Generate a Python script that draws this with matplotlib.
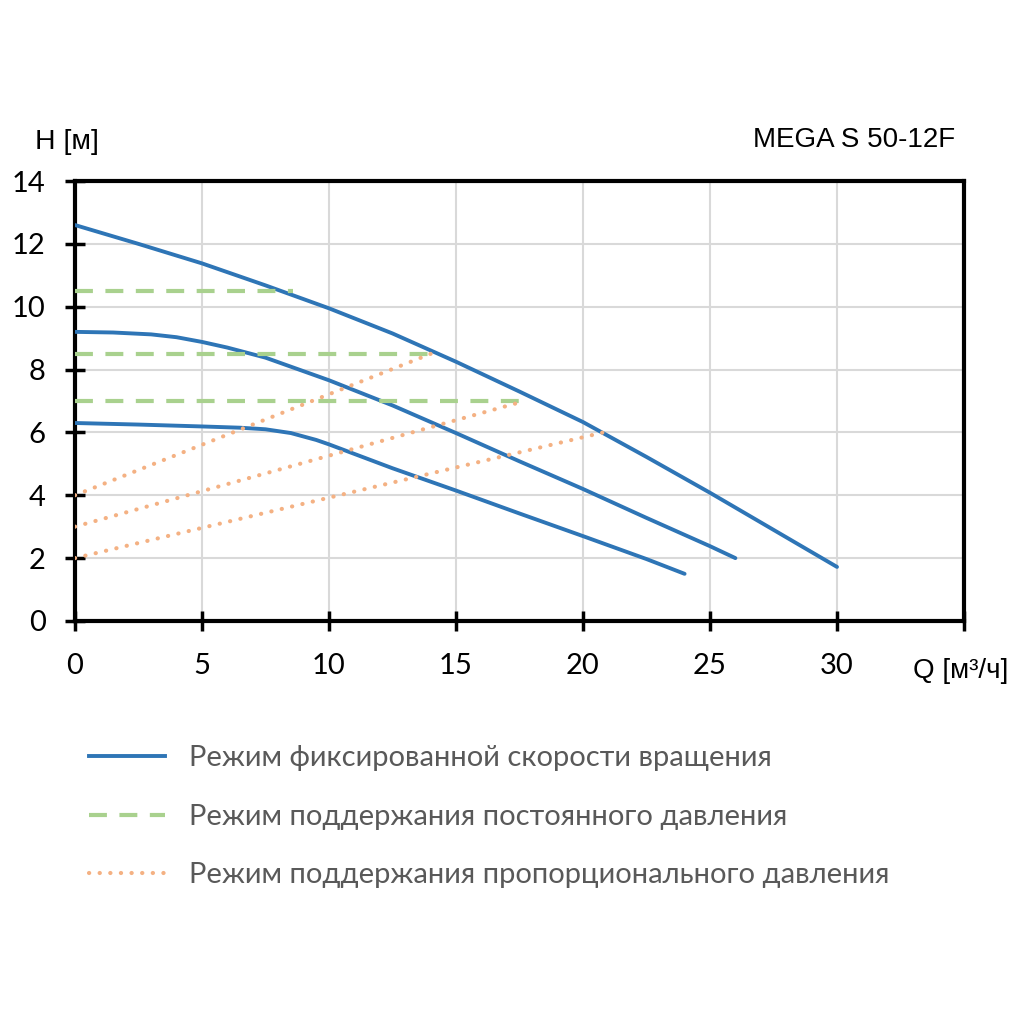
import numpy as np
import matplotlib
matplotlib.use("Agg")
import matplotlib.pyplot as plt

# кривые режима фиксированной скорости (Q, H)
q_hi = [0, 2.5, 5, 7.5, 10, 12.5, 15, 17.5, 20, 22.5, 25, 27.5, 30]
h_hi = [12.6, 12.0, 11.38, 10.68, 9.95, 9.15, 8.25, 7.3, 6.33, 5.22, 4.08, 2.9, 1.72]
q_mid = [0, 1.5, 3, 4, 5, 6, 7.5, 10, 12.5, 15, 17.5, 20, 22.5, 25, 26]
h_mid = [9.2, 9.18, 9.12, 9.03, 8.88, 8.7, 8.38, 7.66, 6.86, 5.98, 5.08, 4.2, 3.28, 2.38, 2.0]
q_lo = [0, 2.5, 5, 6.5, 7.5, 8.5, 9.5, 10, 12.5, 15, 17.5, 20, 22.5, 24]
h_lo = [6.3, 6.25, 6.19, 6.15, 6.1, 5.98, 5.76, 5.62, 4.86, 4.15, 3.42, 2.7, 1.97, 1.5]

# режим постоянного давления
const_h = [10.5, 8.5, 7.0]
const_qmax = [8.6, 14.0, 17.7]

# режим пропорционального давления: (H при Q=0) -> (Q_end, H_end)
prop_h0 = [4.0, 3.0, 2.0]
prop_qend = [14.0, 17.7, 20.8]
prop_hend = [8.5, 7.0, 6.0]

x_ticks = [0, 5, 10, 15, 20, 25, 30, 35]
x_labels = ["0", "5", "10", "15", "20", "25", "30", ""]
y_ticks = [0, 2, 4, 6, 8, 10, 12, 14]

blue = "#2E75B6"
green = "#A9D18E"
orange = "#F4B183"

fig = plt.figure(figsize=(10.24, 10.24), dpi=100)
ax = fig.add_axes([0.0732, 0.3936, 0.8682, 0.4296])

for q, h in [(q_hi, h_hi), (q_mid, h_mid), (q_lo, h_lo)]:
    ax.plot(q, h, color=blue, lw=2.8, solid_capstyle="round",
            solid_joinstyle="round", zorder=3)

for h, qm in zip(const_h, const_qmax):
    ax.plot([0, qm], [h, h], color=green, lw=3, linestyle=(0, (4.3, 3)), zorder=4)

for h0, qe, he in zip(prop_h0, prop_qend, prop_hend):
    ax.plot([0, qe], [h0, he], color=orange, lw=3, linestyle=(0, (0.05, 2.5)),
            dash_capstyle="round", zorder=5)

ax.set_xlim(0, 35)
ax.set_ylim(0, 14)
ax.set_xticks(x_ticks)
ax.set_xticklabels(x_labels)
ax.set_yticks(y_ticks)
ax.grid(True, color="#D9D9D9", lw=1.5)
ax.set_axisbelow(True)
for s in ax.spines.values():
    s.set_linewidth(3)
    s.set_color("black")
ax.tick_params(direction="inout", length=14, width=2.5, labelsize=21)
ax.tick_params(axis="x", pad=16)
ax.tick_params(axis="y", pad=14)
for lab in ax.get_xticklabels() + ax.get_yticklabels():
    lab.set_family("Lato")

fig.text(0.034, 0.861, "H [м]", fontsize=20.5, family="Liberation Sans", va="center")
fig.text(0.933, 0.863, "MEGA S 50-12F", fontsize=20, family="Liberation Sans",
         va="center", ha="right")
fig.text(0.892, 0.345, "Q [м³/ч]", fontsize=20, family="Liberation Sans", va="center")

handles = [
    plt.Line2D([], [], color=blue, lw=2.8),
    plt.Line2D([], [], color=green, lw=3, linestyle=(0, (4.3, 3))),
    plt.Line2D([], [], color=orange, lw=3, linestyle=(0, (0.05, 2.5)), dash_capstyle="round"),
]
labels = ["Режим фиксированной скорости вращения",
          "Режим поддержания постоянного давления",
          "Режим поддержания пропорционального давления"]
leg = fig.legend(handles, labels, loc="upper left", bbox_to_anchor=(0.061, 0.298),
                 frameon=False, handlelength=2.6, handletextpad=0.85,
                 labelspacing=1.12, prop={"family": "Lato", "size": 21})
for t in leg.get_texts():
    t.set_color("#595959")

fig.savefig("out.png", dpi=100, facecolor="white")
